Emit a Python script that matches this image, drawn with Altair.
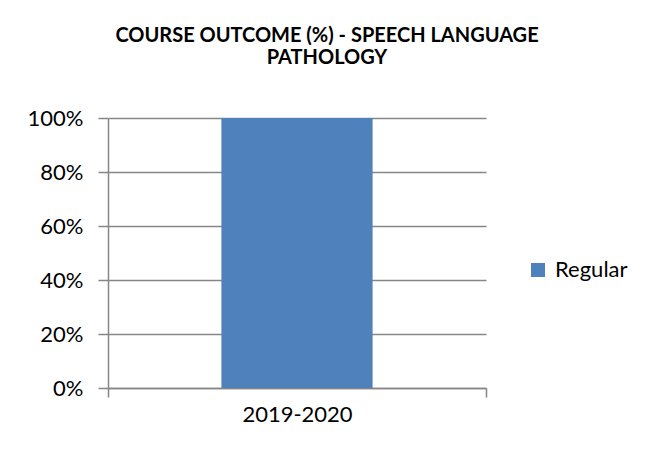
import altair as alt
import pandas as pd

years = ["2019-2020"]
series = ["Regular"]
values = [1.0]

df = pd.DataFrame({"year": years, "series": series, "value": values})

FONT = "Lato"
GRID = "#868686"

chart = alt.Chart(df).mark_bar(
    width=alt.RelativeBandSize(0.4), color="#4F81BD"
).encode(
    x=alt.X(
        "year:N",
        title=None,
        scale=alt.Scale(paddingInner=0, paddingOuter=0),
        axis=alt.Axis(
            labelAngle=0, labelFontSize=22, labelFont=FONT, labelColor="#000000",
            tickBand="extent", ticks=True, tickSize=9, tickColor=GRID, tickWidth=1.5,
            domainColor=GRID, domainWidth=1.5, labelPadding=7, grid=False,
        ),
    ),
    y=alt.Y(
        "value:Q",
        title=None,
        scale=alt.Scale(domain=[0, 1]),
        axis=alt.Axis(
            values=[0, 0.2, 0.4, 0.6, 0.8, 1.0], format=".0%",
            labelFontSize=22, labelFont=FONT, labelColor="#000000",
            tickSize=10, tickColor=GRID, tickWidth=1.5,
            domainColor=GRID, domainWidth=1.5, labelPadding=15,
            grid=True, gridColor=GRID, gridWidth=1.5,
        ),
    ),
    color=alt.Color(
        "series:N",
        scale=alt.Scale(domain=series, range=["#4F81BD"]),
        legend=alt.Legend(
            title=None, orient="none", legendX=419, legendY=141,
            symbolType="square", symbolSize=196, symbolStrokeWidth=0,
            labelFontSize=22, labelFont=FONT, labelColor="#000000", labelOffset=6,
        ),
    ),
).properties(
    width=378,
    height=270,
    title=alt.TitleParams(
        text=["COURSE OUTCOME (%) - SPEECH LANGUAGE", "PATHOLOGY"],
        font=FONT, fontSize=20, fontWeight="bold", color="#000000",
        anchor="middle", dx=30, lineHeight=22, offset=39,
    ),
    autosize=alt.AutoSizeParams(type="none"),
    padding={"left": 100, "top": 110, "right": 159, "bottom": 54},
).configure_view(stroke=None)

chart.save("out.html", embed_options={"renderer": "svg", "actions": False})
